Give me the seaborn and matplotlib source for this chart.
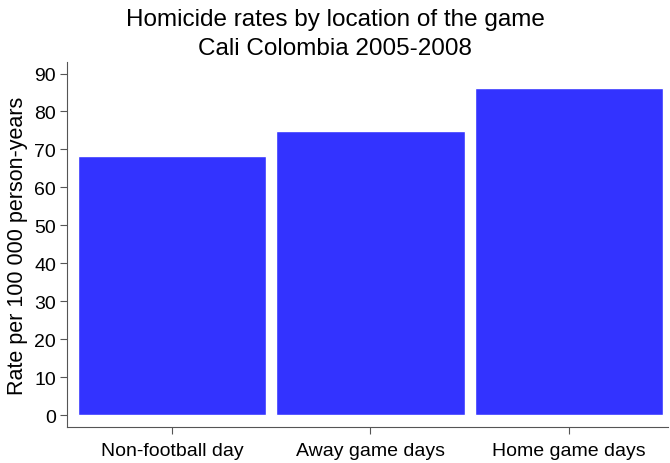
import matplotlib
matplotlib.use("Agg")
import matplotlib.pyplot as plt
import seaborn as sns
import pandas as pd

# data
locations = ["Non-football day", "Away game days", "Home game days"]
rates = [68.4, 74.9, 86.1]

df = pd.DataFrame({"location": locations, "rate": rates})

sns.set_style("ticks")
plt.rcParams["font.family"] = ["Liberation Sans", "DejaVu Sans"]
plt.rcParams["text.color"] = "black"
plt.rcParams["axes.labelcolor"] = "black"
plt.rcParams["xtick.labelcolor"] = "black"
plt.rcParams["ytick.labelcolor"] = "black"

fig = plt.figure(figsize=(6.7, 4.64), dpi=100)
ax = fig.add_axes([0.1, 0.078, 0.897, 0.786])

sns.barplot(data=df, x="location", y="rate", color="#3333ff", saturation=1,
            width=0.95, ax=ax)

ax.set_xlim(-0.53, 2.5)
ax.set_ylim(-3, 93)
ax.set_yticks(range(0, 91, 10))
ax.set_xlabel("")
ax.set_ylabel("Rate per 100 000 person-years", fontsize=15.5, labelpad=4)
ax.tick_params(axis="both", labelsize=14, length=5, color="#555555")
ax.tick_params(axis="x", pad=6)
ax.tick_params(axis="y", pad=3)
for s in ["top", "right"]:
    ax.spines[s].set_visible(False)
for s in ["left", "bottom"]:
    ax.spines[s].set_color("#555555")

fig.suptitle("Homicide rates by location of the game\nCali Colombia 2005-2008",
             fontsize=17.5, y=0.98, linespacing=1.4)

fig.savefig("out.png", dpi=100)
